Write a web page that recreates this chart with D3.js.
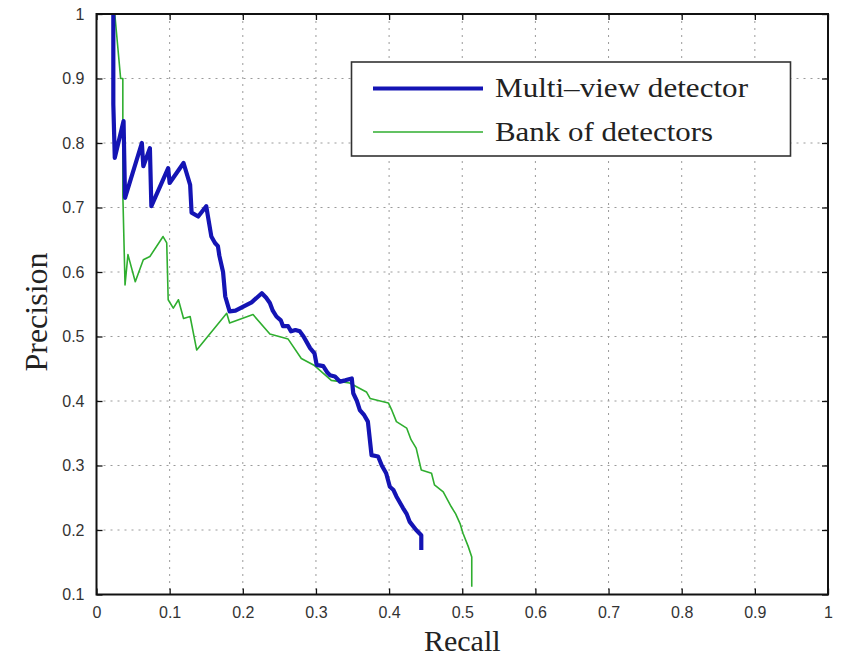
<!DOCTYPE html>
<html>
<head>
<meta charset="utf-8">
<script src="https://cdn.jsdelivr.net/npm/d3@7"></script>
<style>
  html, body { margin: 0; padding: 0; background: #fff; }
  svg { display: block; }
</style>
</head>
<body>
<svg id="chart" width="842" height="657"></svg>
<script>
// ---- data (recall, precision) ----
const xTicks = [0, 0.1, 0.2, 0.3, 0.4, 0.5, 0.6, 0.7, 0.8, 0.9, 1];
const yTicks = [0.1, 0.2, 0.3, 0.4, 0.5, 0.6, 0.7, 0.8, 0.9, 1];
const xTickLabels = ["0", "0.1", "0.2", "0.3", "0.4", "0.5", "0.6", "0.7", "0.8", "0.9", "1"];
const yTickLabels = ["0.1", "0.2", "0.3", "0.4", "0.5", "0.6", "0.7", "0.8", "0.9", "1"];

const multiRecall = [0.023, 0.023, 0.025, 0.037, 0.039, 0.062, 0.064, 0.073, 0.075, 0.098, 0.100, 0.119, 0.128, 0.130, 0.139, 0.150, 0.157, 0.162, 0.166, 0.168, 0.173, 0.176, 0.182, 0.190, 0.200, 0.212, 0.226, 0.232, 0.237, 0.241, 0.246, 0.252, 0.255, 0.262, 0.266, 0.272, 0.278, 0.283, 0.287, 0.292, 0.298, 0.301, 0.310, 0.315, 0.319, 0.326, 0.333, 0.340, 0.349, 0.351, 0.356, 0.360, 0.366, 0.371, 0.376, 0.385, 0.390, 0.396, 0.401, 0.406, 0.410, 0.419, 0.424, 0.428, 0.437, 0.444, 0.444];
const multiPrecision = [1.000, 0.860, 0.777, 0.834, 0.715, 0.800, 0.764, 0.792, 0.702, 0.761, 0.738, 0.769, 0.735, 0.692, 0.686, 0.702, 0.655, 0.645, 0.640, 0.625, 0.600, 0.562, 0.539, 0.540, 0.546, 0.553, 0.567, 0.560, 0.552, 0.540, 0.531, 0.525, 0.516, 0.516, 0.508, 0.510, 0.508, 0.500, 0.492, 0.482, 0.474, 0.456, 0.454, 0.445, 0.440, 0.438, 0.430, 0.432, 0.435, 0.412, 0.400, 0.386, 0.378, 0.368, 0.316, 0.314, 0.300, 0.288, 0.267, 0.262, 0.252, 0.234, 0.225, 0.213, 0.200, 0.192, 0.169];

const bankRecall = [0.025, 0.033, 0.036, 0.036, 0.039, 0.043, 0.053, 0.064, 0.073, 0.091, 0.096, 0.098, 0.105, 0.112, 0.119, 0.128, 0.137, 0.178, 0.182, 0.214, 0.237, 0.262, 0.280, 0.298, 0.321, 0.346, 0.369, 0.374, 0.399, 0.404, 0.410, 0.424, 0.430, 0.437, 0.444, 0.458, 0.462, 0.474, 0.485, 0.491, 0.497, 0.501, 0.508, 0.513, 0.513];
const bankPrecision = [1.000, 0.900, 0.900, 0.720, 0.580, 0.627, 0.585, 0.619, 0.624, 0.655, 0.645, 0.557, 0.544, 0.557, 0.528, 0.531, 0.479, 0.536, 0.521, 0.534, 0.504, 0.496, 0.466, 0.455, 0.432, 0.428, 0.414, 0.404, 0.397, 0.385, 0.368, 0.358, 0.340, 0.327, 0.293, 0.288, 0.270, 0.259, 0.236, 0.225, 0.210, 0.195, 0.175, 0.158, 0.112];

const seriesNames = ["Multi\u2013view detector", "Bank of detectors"];

// ---- layout ----
const svg = d3.select("#chart");
const L = 96.5, R = 828, T = 14, B = 594.5;
const x = d3.scaleLinear().domain([0, 1]).range([L, R]);
const y = d3.scaleLinear().domain([0.1, 1]).range([B, T]);

// grid
const grid = svg.append("g");
grid.selectAll("line.gx").data(xTicks.slice(1, -1)).join("line")
  .attr("x1", d => x(d)).attr("x2", d => x(d)).attr("y1", T).attr("y2", B)
  .attr("stroke", "#9a9a9a").attr("stroke-width", 1).attr("stroke-dasharray", "2,5");
grid.selectAll("line.gy").data(yTicks.slice(1, -1)).join("line")
  .attr("y1", d => y(d)).attr("y2", d => y(d)).attr("x1", L).attr("x2", R)
  .attr("stroke", "#9a9a9a").attr("stroke-width", 1).attr("stroke-dasharray", "2,5");

// axes (ticks pointing inward)
const tickFont = "'Liberation Sans', Arial, sans-serif";
const xAxisB = d3.axisBottom(x).tickValues(xTicks).tickSize(-6).tickPadding(12)
  .tickFormat((d, i) => xTickLabels[i]);
const xAxisT = d3.axisTop(x).tickValues(xTicks).tickSize(-6).tickFormat("");
const yAxisL = d3.axisLeft(y).tickValues(yTicks).tickSize(-6).tickPadding(12)
  .tickFormat((d, i) => yTickLabels[i]);
const yAxisR = d3.axisRight(y).tickValues(yTicks).tickSize(-6).tickFormat("");

function styleAxis(g) {
  g.select(".domain").remove();
  g.selectAll(".tick line").attr("stroke", "#111").attr("stroke-width", 1.3);
  g.selectAll(".tick text").attr("fill", "#333").style("font-family", tickFont).style("font-size", "16px");
}
svg.append("g").attr("transform", `translate(0,${B})`).call(xAxisB).call(styleAxis);
svg.append("g").attr("transform", `translate(0,${T})`).call(xAxisT).call(styleAxis);
svg.append("g").attr("transform", `translate(${L},0)`).call(yAxisL).call(styleAxis);
svg.append("g").attr("transform", `translate(${R},0)`).call(yAxisR).call(styleAxis);

// curves
const line = d3.line().x(d => x(d[0])).y(d => y(d[1]));
const bankData = bankRecall.map((r, i) => [r, bankPrecision[i]]);
const multiData = multiRecall.map((r, i) => [r, multiPrecision[i]]);
svg.append("clipPath").attr("id", "clip").append("rect")
  .attr("x", L).attr("y", T).attr("width", R - L).attr("height", B - T);
svg.append("path").datum(bankData).attr("d", line)
  .attr("fill", "none").attr("stroke", "#2fae2f").attr("stroke-width", 1.6)
  .attr("stroke-linejoin", "round").attr("clip-path", "url(#clip)");
svg.append("path").datum(multiData).attr("d", line)
  .attr("fill", "none").attr("stroke", "#1414b4").attr("stroke-width", 4.2)
  .attr("stroke-linejoin", "round").attr("clip-path", "url(#clip)");

// box
svg.append("rect").attr("x", L).attr("y", T).attr("width", R - L).attr("height", B - T)
  .attr("fill", "none").attr("stroke", "#111").attr("stroke-width", 2);

// legend
const lg = svg.append("g");
lg.append("rect").attr("x", 351.5).attr("y", 62).attr("width", 439).attr("height", 94)
  .attr("fill", "#fff").attr("stroke", "#333").attr("stroke-width", 1.6);
const legColors = ["#1414b4", "#2fae2f"];
const legWidths = [4.2, 1.6];
const legY = [88.5, 132];
const legLen = [253, 218];
seriesNames.forEach((name, i) => {
  lg.append("line").attr("x1", 373).attr("x2", 483).attr("y1", legY[i]).attr("y2", legY[i])
    .attr("stroke", legColors[i]).attr("stroke-width", legWidths[i]);
  lg.append("text").attr("x", 495).attr("y", legY[i] + 8.5)
    .attr("textLength", legLen[i]).attr("lengthAdjust", "spacingAndGlyphs")
    .style("font-family", "'Liberation Serif', 'Times New Roman', serif")
    .style("font-size", "27px").attr("fill", "#222").text(name);
});

// axis titles
svg.append("text").attr("x", (L + R) / 2).attr("y", 651).attr("text-anchor", "middle")
  .style("font-family", "'Liberation Serif', 'Times New Roman', serif").style("font-size", "30px")
  .attr("fill", "#222").text("Recall");
svg.append("text").attr("transform", `translate(47,312) rotate(-90)`).attr("text-anchor", "middle")
  .style("font-family", "'Liberation Serif', 'Times New Roman', serif").style("font-size", "32px")
  .attr("fill", "#222").text("Precision");
</script>
</body>
</html>
